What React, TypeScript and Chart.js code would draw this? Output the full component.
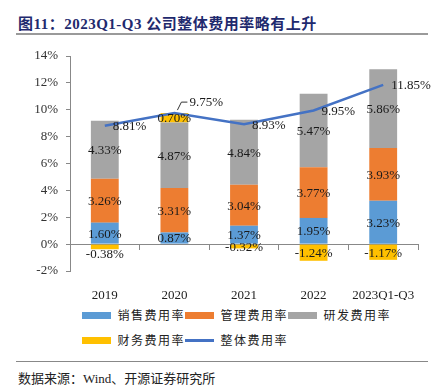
import React, { useEffect, useRef } from "react";
import { Chart, registerables } from "chart.js";
Chart.register(...registerables);

const titleText = "图11：2023Q1-Q3 公司整体费用率略有上升";
const sourceText = "数据来源：Wind、开源证券研究所";
const categories = ["2019", "2020", "2021", "2022", "2023Q1-Q3"];
const salesRate = [1.6, 0.87, 1.37, 1.95, 3.23];
const adminRate = [3.26, 3.31, 3.04, 3.77, 3.93];
const rdRate = [4.33, 4.87, 4.84, 5.47, 5.86];
const finRate = [-0.38, 0.7, -0.32, -1.24, -1.17];
const totalRate = [8.81, 9.75, 8.93, 9.95, 11.85];
const seriesNames = ["销售费用率", "管理费用率", "研发费用率", "财务费用率", "整体费用率"];
const yMin = -2;
const yMax = 14;
const yStep = 2;

const colors = ["#5B9BD5", "#ED7D31", "#A5A5A5", "#FFC000", "#4472C4"];
const serif = "'Liberation Serif', 'Times New Roman', 'Noto Sans CJK SC', serif";
const cjk = "'Liberation Serif', 'Noto Sans CJK SC', serif";

const labelPlugin = {
  id: "valueLabels",
  afterDatasetsDraw(chart: any) {
    const ctx = chart.ctx;
    ctx.save();
    ctx.font = "13px " + serif;
    ctx.fillStyle = "#1a1a1a";
    ctx.textBaseline = "middle";
    chart.data.datasets.forEach((ds: any, di: number) => {
      const meta = chart.getDatasetMeta(di);
      meta.data.forEach((el: any, i: number) => {
        const v = ds.data[i];
        const txt = v.toFixed(2) + "%";
        if (ds.type === "line") {
          ctx.textAlign = "left";
          if (i === 1) {
            ctx.strokeStyle = "#333";
            ctx.lineWidth = 1;
            ctx.beginPath();
            ctx.moveTo(el.x + 3, el.y - 3);
            ctx.lineTo(el.x + 7, el.y - 11);
            ctx.lineTo(el.x + 13, el.y - 11);
            ctx.stroke();
            ctx.fillText(txt, el.x + 15, el.y - 11);
          } else {
            ctx.fillText(txt, el.x + 8, el.y + 1);
          }
        } else {
          ctx.textAlign = "center";
          let y = (el.y + el.base) / 2 + 1;
          if (di === 4 && i === 0) y += 7;
          ctx.fillText(txt, el.x, y);
        }
      });
    });
    ctx.restore();
  },
};

function LegendItem({ name, color, isLine }: { name: string; color: string; isLine?: boolean }) {
  return (
    <div style={{ display: "flex", alignItems: "center", width: 103 }}>
      <div
        style={{
          width: 30,
          height: isLine ? 3 : 7,
          background: color,
          marginRight: 6,
        }}
      />
      <span style={{ fontSize: 12, letterSpacing: 1.5, color: "#222", fontFamily: cjk, whiteSpace: "nowrap" }}>{name}</span>
    </div>
  );
}

export default function App() {
  const ref = useRef<HTMLCanvasElement>(null);
  useEffect(() => {
    const chart = new Chart(ref.current as HTMLCanvasElement, {
      type: "bar",
      data: {
        labels: categories,
        datasets: [
          { type: "line", label: seriesNames[4], data: totalRate, borderColor: colors[4], backgroundColor: colors[4], borderWidth: 2.5, pointRadius: 0, tension: 0, order: 0, stack: "line" } as any,
          { type: "bar", label: seriesNames[0], data: salesRate, backgroundColor: colors[0], stack: "s", order: 1 },
          { type: "bar", label: seriesNames[1], data: adminRate, backgroundColor: colors[1], stack: "s", order: 1 },
          { type: "bar", label: seriesNames[2], data: rdRate, backgroundColor: colors[2], stack: "s", order: 1 },
          { type: "bar", label: seriesNames[3], data: finRate, backgroundColor: colors[3], stack: "s", order: 1 },
        ],
      },
      options: {
        responsive: false,
        animation: false,
        layout: { padding: { top: 16, right: 15, left: 0, bottom: 0 } },
        datasets: { bar: { barPercentage: 0.4, categoryPercentage: 1 } } as any,
        plugins: { legend: { display: false }, tooltip: { enabled: false } },
        scales: {
          x: {
            stacked: true,
            position: { y: 0 } as any,
            offset: true,
            grid: { offset: true, drawOnChartArea: false, drawTicks: true, tickLength: 5, color: "#888" },
            border: { display: true, color: "#888", width: 1 },
            ticks: { display: false },
          },
          x2: {
            type: "category",
            labels: categories,
            position: "bottom",
            offset: true,
            grid: { display: false },
            border: { display: false },
            ticks: { font: { family: serif, size: 13 }, color: "#222", padding: 9, maxRotation: 0, autoSkip: false },
            afterFit: (s: any) => { s.height = 29; },
          } as any,
          y: {
            stacked: true,
            min: yMin,
            max: yMax,
            ticks: { stepSize: yStep, callback: (v: any) => v + "%", font: { family: serif, size: 13 }, color: "#333", padding: 8 },
            grid: { drawOnChartArea: false, drawTicks: true, tickLength: 4, color: "#888" },
            border: { display: true, color: "#888", width: 1 },
            afterFit: (s: any) => { s.width = 70; },
          },
        },
      },
      plugins: [labelPlugin],
    });
    return () => chart.destroy();
  }, []);

  return (
    <div style={{ position: "fixed", left: 0, top: 0, width: 433, height: 390, background: "#fff", overflow: "hidden" }}>
      <div style={{ position: "absolute", left: 18, top: 12, fontSize: 15, fontWeight: "bold", color: "#1F2A6E", fontFamily: cjk, whiteSpace: "nowrap", letterSpacing: 0.5 }}>
        {titleText}
      </div>
      <div style={{ position: "absolute", left: 16, top: 33, width: 412, height: 2, background: "#9a9a9a" }} />
      <canvas ref={ref} width={433} height={260} style={{ position: "absolute", left: 0, top: 40, width: 433, height: 260 }} />
      <div style={{ position: "absolute", left: 82, top: 306, display: "flex" }}>
        <LegendItem name={seriesNames[0]} color={colors[0]} />
        <LegendItem name={seriesNames[1]} color={colors[1]} />
        <LegendItem name={seriesNames[2]} color={colors[2]} />
      </div>
      <div style={{ position: "absolute", left: 82, top: 331, display: "flex" }}>
        <LegendItem name={seriesNames[3]} color={colors[3]} />
        <LegendItem name={seriesNames[4]} color={colors[4]} isLine />
      </div>
      <div style={{ position: "absolute", left: 16, top: 361, width: 412, height: 1, background: "#888" }} />
      <div style={{ position: "absolute", left: 18, top: 368, fontSize: 13, color: "#222", fontFamily: cjk, whiteSpace: "nowrap" }}>
        {sourceText}
      </div>
    </div>
  );
}
